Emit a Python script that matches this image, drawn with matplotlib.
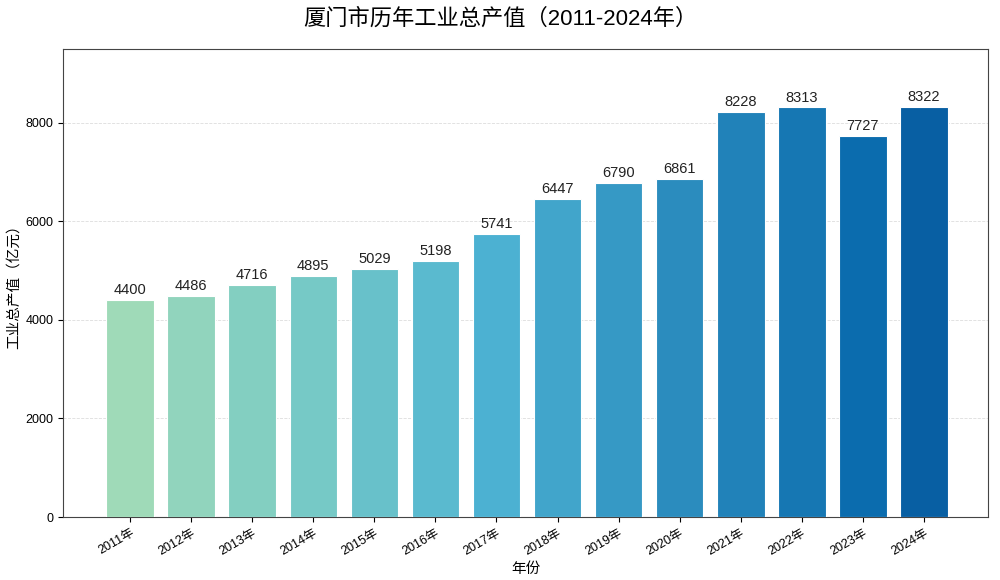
import matplotlib
matplotlib.use("Agg")
import matplotlib.pyplot as plt
import numpy as np

plt.rcParams['font.family'] = ['Liberation Sans', 'Noto Sans CJK SC', 'DejaVu Sans']

years = ['2011年', '2012年', '2013年', '2014年', '2015年', '2016年', '2017年',
         '2018年', '2019年', '2020年', '2021年', '2022年', '2023年', '2024年']
values = [4400, 4486, 4716, 4895, 5029, 5198, 5741, 6447, 6790, 6861, 8228, 8313, 7727, 8322]

fig = plt.figure(figsize=(10, 5.8), dpi=100)
ax = fig.add_axes([0.063, 0.1086, 0.925, 0.8069])

colors = plt.cm.GnBu(np.linspace(0.4, 0.9, len(years)))
x = np.arange(len(years))
bars = ax.bar(x, values, width=0.78, color=colors, edgecolor='white', linewidth=0.8, zorder=3)

for xi, v in zip(x, values):
    ax.text(xi, v + 60, str(v), ha='center', va='bottom', fontsize=10.5, color='#222222', zorder=4)

ax.set_xticks(x)
ax.set_xticklabels(years, rotation=30, ha='right', fontsize=9, rotation_mode='anchor')
ax.set_xlim(-1.1, 14.05)
ax.set_ylim(0, 9500)
ax.set_yticks([0, 2000, 4000, 6000, 8000])
ax.tick_params(axis='y', labelsize=9)
ax.yaxis.grid(True, linestyle='--', linewidth=0.6, color='#dddddd', zorder=0)
ax.set_axisbelow(True)

ax.set_xlabel('年份', fontsize=10.5, labelpad=3)
ax.set_ylabel('工业总产值（亿元）', fontsize=10.5, labelpad=3)
for s in ax.spines.values():
    s.set_color('#444444')

fig.suptitle('厦门市历年工业总产值（2011-2024年）', fontsize=16, y=0.985)

fig.savefig('out.png', dpi=100)
